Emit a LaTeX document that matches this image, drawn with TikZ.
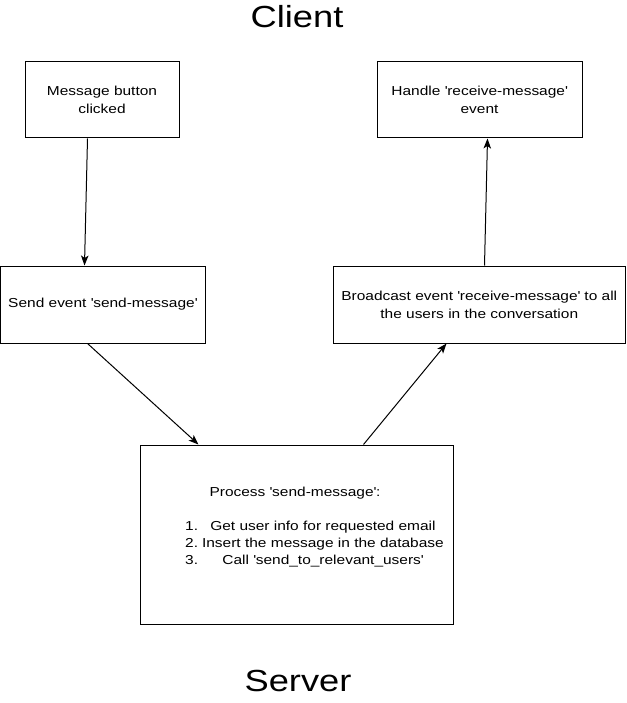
\documentclass[tikz,border=0pt]{standalone}
\usepackage{fontspec}
\setmainfont{Liberation Sans}[FakeStretch=1.19]
\usetikzlibrary{arrows.meta,positioning}
\newcommand{\sq}{\textquotesingle}
\begin{document}
\begin{tikzpicture}[x=1pt,y=-1pt,
  box/.style={draw=black,line width=1pt,rectangle,inner sep=0pt,align=center,
    font=\fontsize{13}{18}\selectfont},
  conn/.style={draw=black,line width=1pt,-{Stealth[length=10pt,width=7.5pt,inset=2.5pt]}},
  title/.style={font=\fontsize{30.5}{36}\selectfont,anchor=base,inner sep=0pt},
  txt/.style={font=\fontsize{13}{17}\selectfont,inner sep=0pt}]
\useasboundingbox (0,0) rectangle (626,703);
\fill[white] (0,0) rectangle (626,703);

\node[title] (client) at (297,28) {Client};
\node[title] (server) at (298,691) {Server};

\node[box,minimum width=154pt,minimum height=76pt] (msg) at (102,100)
  {Message button\\clicked};
\node[box,minimum width=205pt,minimum height=76pt] (handle) at (479.5,100)
  {Handle \sq receive-message\sq\\event};
\node[box,minimum width=204.5pt,minimum height=77pt] (send) at (102.75,304.5)
  {Send event \sq send-message\sq};
\node[box,minimum width=292.5pt,minimum height=77pt] (bcast) at (479.25,304.5)
  {Broadcast event \sq receive-message\sq\ to all\\the users in the conversation};
\node[box,minimum width=313pt,minimum height=179pt] (proc) at (296.5,534.5) {};

\node[txt] (ptitle) at (295,493) {Process \sq send-message\sq:};
\node[txt,anchor=west] (plist) at (185,544) {%
  \begin{tabular}{@{}l@{\hspace{4pt}}c@{}}
  1. & Get user info for requested email\\
  2. & Insert the message in the database\\
  3. & Call \sq send\_to\_relevant\_users\sq
  \end{tabular}};

\draw[conn] ([xshift=63pt]msg.south west) -- ([xshift=84.5pt]send.north west);
\draw[conn] ([xshift=87.5pt]send.south west) -- ([xshift=59pt]proc.north west);
\draw[conn] ([xshift=224pt]proc.north west) -- ([xshift=114pt]bcast.south west);
\draw[conn] ([xshift=152pt]bcast.north west) -- ([xshift=111pt]handle.south west);
\end{tikzpicture}
\end{document}
